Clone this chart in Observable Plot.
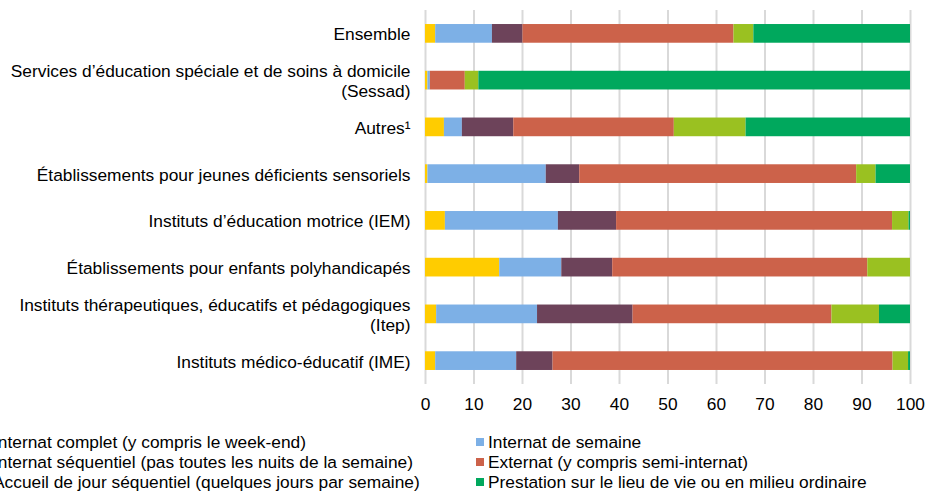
<!DOCTYPE html>
<html>
<head>
<meta charset="utf-8">
<script src="https://cdn.jsdelivr.net/npm/d3@7"></script>
<script src="https://cdn.jsdelivr.net/npm/@observablehq/plot@0.6"></script>
<style>
  html, body { margin: 0; padding: 0; background: #fff; }
  #wrap { position: relative; width: 925px; height: 495px; overflow: hidden; font-family: "Liberation Sans", Arial, sans-serif; }
  #legend { position: absolute; top: 432px; left: -19px; display: grid; grid-template-columns: 495px auto; font-size: 17.33px; color: #000; }
  .item { display: flex; align-items: center; height: 20px; white-space: nowrap; }
  .sw { width: 8px; height: 8px; margin-right: 4px; flex: none; }
</style>
</head>
<body>
<div id="wrap"></div>
<script>
const categories = [
  "Ensemble",
  "Services d’éducation spéciale et de soins à domicile\n(Sessad)",
  "Autres¹",
  "Établissements pour jeunes déficients sensoriels",
  "Instituts d’éducation motrice (IEM)",
  "Établissements pour enfants polyhandicapés",
  "Instituts thérapeutiques, éducatifs et pédagogiques\n(Itep)",
  "Instituts médico-éducatif (IME)"
];
const seriesNames = [
  "Internat complet (y compris le week-end)",
  "Internat de semaine",
  "Internat séquentiel (pas toutes les nuits de la semaine)",
  "Externat (y compris semi-internat)",
  "Accueil de jour séquentiel (quelques jours par semaine)",
  "Prestation sur le lieu de vie ou en milieu ordinaire"
];
const seriesColors = ["#FFCC00", "#7DB0E6", "#6D435A", "#CC624A", "#9AC121", "#00A85D"];

const internatComplet    = [2.1, 0.5, 3.9, 0.5, 4.1, 15.3, 2.3, 2.1];
const internatSemaine    = [11.7, 0.5, 3.7, 24.4, 23.3, 12.8, 20.8, 16.7];
const internatSequentiel = [6.3, 0.0, 10.6, 6.9, 12.0, 10.5, 19.7, 7.5];
const externat           = [43.5, 7.2, 33.1, 57.1, 56.9, 52.6, 41.0, 70.1];
const accueilJour        = [4.1, 2.8, 14.8, 4.0, 3.4, 8.8, 9.8, 3.2];
const prestation         = [32.3, 89.0, 33.9, 7.1, 0.3, 0.0, 6.4, 0.4];

const xTicks = [0, 10, 20, 30, 40, 50, 60, 70, 80, 90, 100];

const seriesValues = [internatComplet, internatSemaine, internatSequentiel, externat, accueilJour, prestation];
const data = [];
categories.forEach((c, i) => {
  seriesNames.forEach((s, j) => {
    data.push({category: c, series: s, value: seriesValues[j][i]});
  });
});

const chart = Plot.plot({
  width: 925,
  height: 420,
  marginLeft: 425,
  marginRight: 15,
  marginTop: 10,
  marginBottom: 36,
  style: {fontFamily: "'Liberation Sans', Arial, sans-serif", fontSize: "17.33px", color: "#000", background: "#fff"},
  x: {domain: [0, 100]},
  y: {domain: categories, paddingInner: 0.6, paddingOuter: 0.3, round: false},
  color: {domain: seriesNames, range: seriesColors},
  marks: [
    Plot.gridX(xTicks, {stroke: "#d9d9d9", strokeOpacity: 1, strokeWidth: 2}),
    Plot.barX(data, {x: "value", y: "category", fill: "series", order: null}),
    Plot.axisX({ticks: xTicks, tickSize: 0, tickPadding: 13, label: null, fill: "#000"}),
    Plot.axisY({tickSize: 0, tickPadding: 15, label: null, lineHeight: 1.15, fill: "#000"})
  ]
});

const wrap = document.getElementById("wrap");
wrap.appendChild(chart);

const legend = document.createElement("div");
legend.id = "legend";
seriesNames.forEach((s, j) => {
  const item = document.createElement("div");
  item.className = "item";
  const sw = document.createElement("span");
  sw.className = "sw";
  sw.style.background = seriesColors[j];
  const t = document.createElement("span");
  t.textContent = s;
  item.appendChild(sw);
  item.appendChild(t);
  legend.appendChild(item);
});
wrap.appendChild(legend);
</script>
</body>
</html>
